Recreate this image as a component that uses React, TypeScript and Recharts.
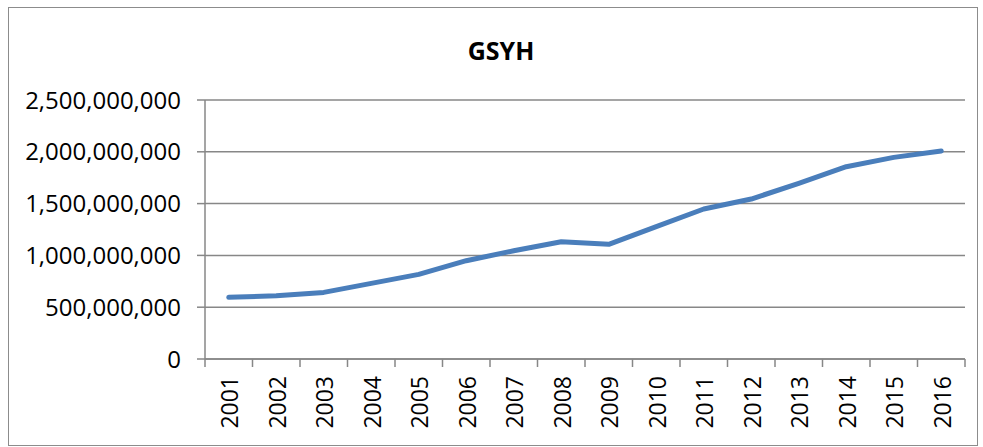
import React from 'react';
import { LineChart, Line, XAxis, YAxis, CartesianGrid } from 'recharts';

const years = ['2001', '2002', '2003', '2004', '2005', '2006', '2007', '2008', '2009', '2010', '2011', '2012', '2013', '2014', '2015', '2016'];
const gsyh = [595e6, 611e6, 643e6, 730e6, 817e6, 949e6, 1045e6, 1132e6, 1107e6, 1277e6, 1448e6, 1544e6, 1695e6, 1856e6, 1946e6, 2007e6];
const yTicks = [0, 500e6, 1000e6, 1500e6, 2000e6, 2500e6];

const data = years.map((year, i) => ({ year, value: gsyh[i] }));

const axisGray = '#878787';
const font = '"Open Sans", sans-serif';

// category tick: rotated label plus tick marks on the band edges (Excel style)
const YearTick = (props: any) => {
  const { x, y, payload, index } = props;
  const half = payload.offset || 0;
  const isLast = index === years.length - 1;
  return (
    <g>
      <line x1={x - half} x2={x - half} y1={y - 12} y2={y - 4} stroke={axisGray} strokeWidth={1.5} />
      {isLast && <line x1={x + half} x2={x + half} y1={y - 12} y2={y - 4} stroke={axisGray} strokeWidth={1.5} />}
      <text
        transform={`translate(${x + 1},${y + 5}) rotate(-90)`}
        textAnchor="end"
        dy="0.36em"
        fill="#000"
        fontSize={23}
        fontFamily={font}
      >
        {payload.value}
      </text>
    </g>
  );
};

export default function App() {
  return (
    <div
      style={{
        position: 'absolute',
        left: 8,
        top: 7,
        width: 968,
        height: 437,
        border: '1px solid #8c8c8c',
        background: '#fff',
      }}
    >
      <div
        style={{
          position: 'absolute',
          left: 0,
          width: 984,
          top: 25,
          textAlign: 'center',
          fontFamily: font,
          fontWeight: 700,
          fontSize: 25,
          color: '#000',
        }}
      >
        GSYH
      </div>
      <LineChart width={968} height={437} data={data} margin={{ top: 92, right: 12, bottom: 0, left: 0 }}>
        <CartesianGrid vertical={false} stroke={axisGray} strokeWidth={1.5} />
        <XAxis
          dataKey="year"
          scale="band"
          axisLine={{ stroke: axisGray, strokeWidth: 1.5 }}
          tickLine={false}
          tickSize={8}
          tickMargin={4}
          height={86}
          interval={0}
          tick={<YearTick />}
        />
        <YAxis
          domain={[0, 2500e6]}
          ticks={yTicks}
          width={196}
          axisLine={{ stroke: axisGray, strokeWidth: 1.5 }}
          tickLine={{ stroke: axisGray, strokeWidth: 1.5 }}
          tickSize={8}
          tickMargin={16}
          tick={{ fill: '#000', fontSize: 24, fontFamily: font }}
          tickFormatter={(v: number) => v.toLocaleString('en-US')}
        />
        <Line
          type="linear"
          dataKey="value"
          stroke="#4a7ebb"
          strokeWidth={5}
          strokeLinecap="round"
          strokeLinejoin="round"
          dot={false}
          isAnimationActive={false}
        />
      </LineChart>
    </div>
  );
}
